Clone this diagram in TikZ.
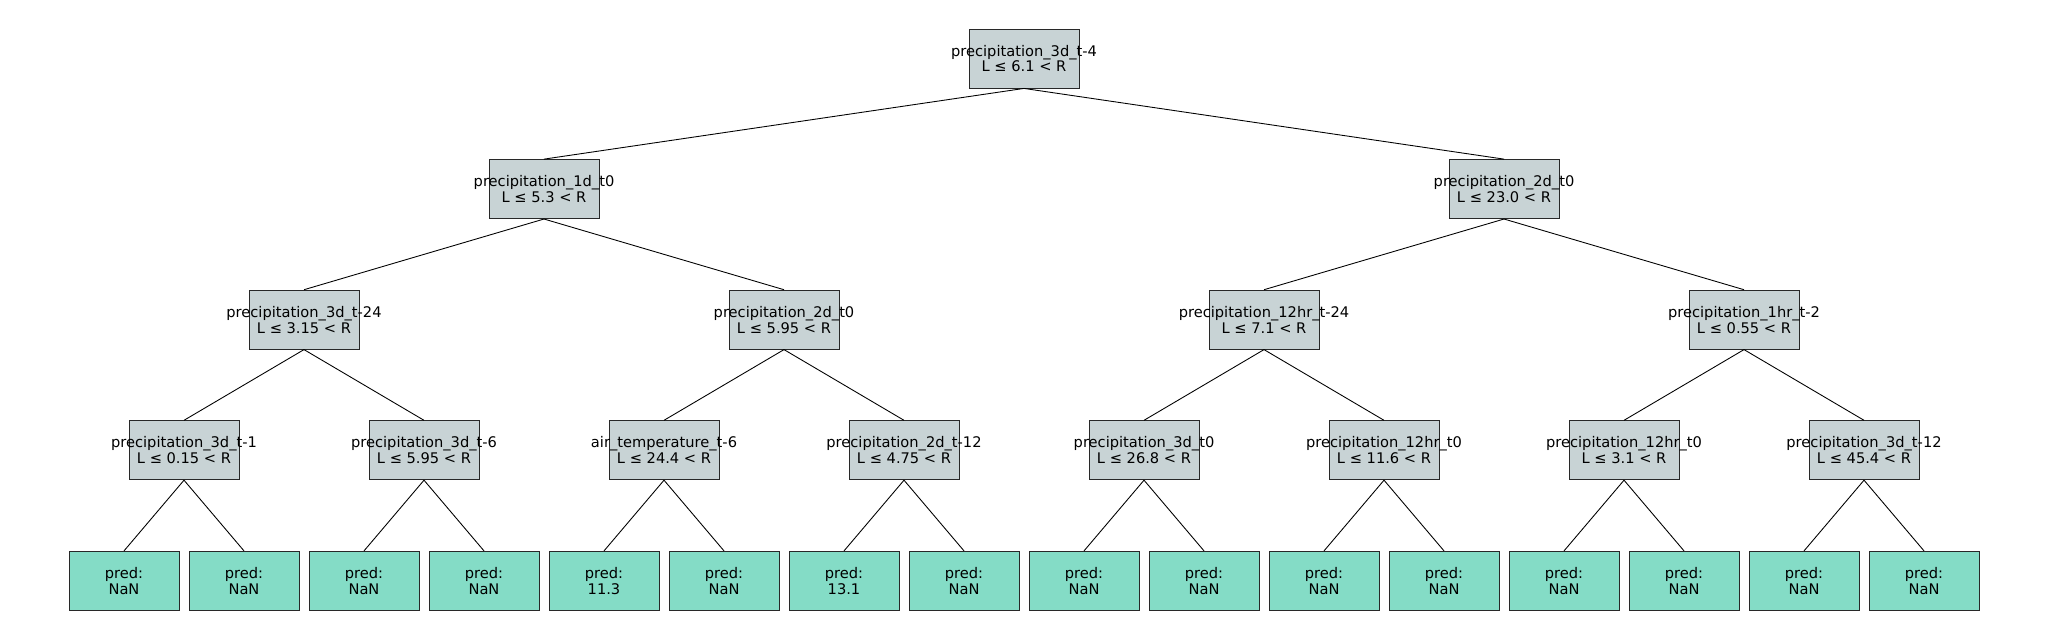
\documentclass[tikz,border=0pt]{standalone}
\usepackage{fontspec}
\setmainfont{DejaVu Sans}
\usepackage{xcolor}
\usetikzlibrary{trees}
\usetikzlibrary{shapes,calc,positioning}
\definecolor{splitgray}{RGB}{200,211,213}
\definecolor{leafteal}{RGB}{132,220,198}
\definecolor{boxedge}{RGB}{40,40,40}
\newcommand{\splitlabel}[2]{\makebox[0pt]{#1}\\L ≤ #2 < R}
\tikzset{
  treebox/.style = {rectangle, draw=boxedge, line width=0.6pt, inner sep=0pt, align=center,
    minimum width=2.64cm, minimum height=1.416cm, font=\fontsize{10}{10.8}\selectfont},
  split_n/.style = {treebox, fill=splitgray},
  leaf_n/.style = {treebox, fill=leafteal}
}

\begin{document}
\begin{tikzpicture}[
    level distance=3.134cm,
    parent anchor=south, child anchor=north,
    edge from parent/.style={draw, black, line width=0.6pt},
    level 1/.style={sibling distance=23.04cm},
    level 2/.style={sibling distance=11.52cm},
    level 3/.style={sibling distance=5.76cm},
    level 4/.style={sibling distance=2.88cm}]
  \useasboundingbox (0,0) rectangle (49.152,15.36);
	\node [split_n] (root) at (24.576,13.956) {\splitlabel{precipitation\_3d\_t-4}{6.1}}
			child{ node [split_n] (n1) {\splitlabel{precipitation\_1d\_t0}{5.3}}
				child{ node [split_n] (n11) {\splitlabel{precipitation\_3d\_t-24}{3.15}}
					child{ node [split_n] (n111) {\splitlabel{precipitation\_3d\_t-1}{0.15}}
						child{ node [leaf_n] (l1) {pred:\\NaN}}
						child{ node [leaf_n] (l2) {pred:\\NaN}}
					}
					child{ node [split_n] (n112) {\splitlabel{precipitation\_3d\_t-6}{5.95}}
						child{ node [leaf_n] (l3) {pred:\\NaN}}
						child{ node [leaf_n] (l4) {pred:\\NaN}}
					}
				}
				child{ node [split_n] (n12) {\splitlabel{precipitation\_2d\_t0}{5.95}}
					child{ node [split_n] (n121) {\splitlabel{air\_temperature\_t-6}{24.4}}
						child{ node [leaf_n] (l5) {pred:\\11.3}}
						child{ node [leaf_n] (l6) {pred:\\NaN}}
					}
					child{ node [split_n] (n122) {\splitlabel{precipitation\_2d\_t-12}{4.75}}
						child{ node [leaf_n] (l7) {pred:\\13.1}}
						child{ node [leaf_n] (l8) {pred:\\NaN}}
					}
				}
			}
			child{ node [split_n] (n2) {\splitlabel{precipitation\_2d\_t0}{23.0}}
				child{ node [split_n] (n21) {\splitlabel{precipitation\_12hr\_t-24}{7.1}}
					child{ node [split_n] (n211) {\splitlabel{precipitation\_3d\_t0}{26.8}}
						child{ node [leaf_n] (l9) {pred:\\NaN}}
						child{ node [leaf_n] (l10) {pred:\\NaN}}
					}
					child{ node [split_n] (n212) {\splitlabel{precipitation\_12hr\_t0}{11.6}}
						child{ node [leaf_n] (l11) {pred:\\NaN}}
						child{ node [leaf_n] (l12) {pred:\\NaN}}
					}
				}
				child{ node [split_n] (n22) {\splitlabel{precipitation\_1hr\_t-2}{0.55}}
					child{ node [split_n] (n221) {\splitlabel{precipitation\_12hr\_t0}{3.1}}
						child{ node [leaf_n] (l13) {pred:\\NaN}}
						child{ node [leaf_n] (l14) {pred:\\NaN}}
					}
					child{ node [split_n] (n222) {\splitlabel{precipitation\_3d\_t-12}{45.4}}
						child{ node [leaf_n] (l15) {pred:\\NaN}}
						child{ node [leaf_n] (l16) {pred:\\NaN}}
					}
				}
			};
\end{tikzpicture}
\end{document}
